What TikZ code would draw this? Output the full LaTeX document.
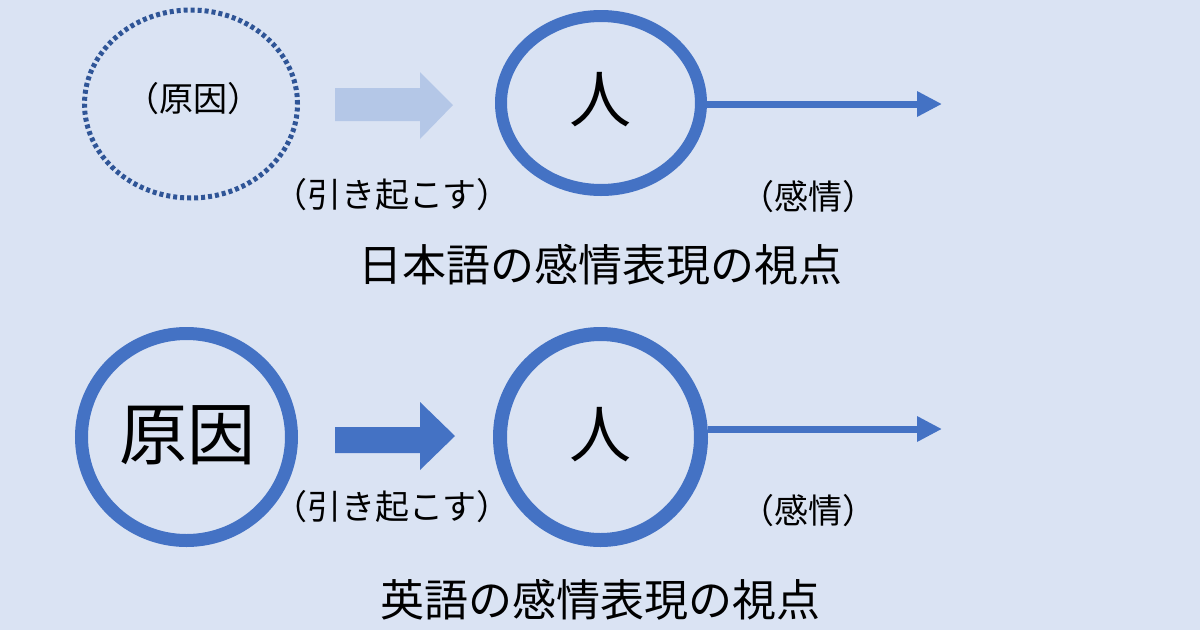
\documentclass[tikz,border=0pt]{standalone}
\usepackage{fontspec}
\newfontfamily\jp{Noto Sans CJK JP}
\usetikzlibrary{shapes.geometric,arrows.meta}
\definecolor{bgc}{HTML}{DAE3F3}
\definecolor{mainblue}{HTML}{4472C4}
\definecolor{darkblue}{HTML}{2F5597}
\definecolor{lightblue}{HTML}{B4C7E7}
\tikzset{
  ring/.style={ellipse, draw=mainblue, inner sep=0pt},
  dotring/.style={ellipse, draw=darkblue, line width=5pt, dash pattern=on 4pt off 3pt, inner sep=0pt},
  lbl/.style={inner sep=0pt, font=\jp\fontsize{34pt}{40pt}\selectfont},
  bigtxt/.style={inner sep=0pt, font=\jp\fontsize{62pt}{70pt}\selectfont},
  ttl/.style={inner sep=0pt, font=\jp\fontsize{44pt}{52pt}\selectfont},
  flow/.style={draw=mainblue, line width=7pt, -{Triangle[length=25pt,width=24pt]}},
}
\begin{document}
\begin{tikzpicture}[x=1pt,y=-1pt]
\fill[bgc] (0,0) rectangle (1200,630);
\useasboundingbox (0,0) rectangle (1200,630);
% top row
\node[dotring, minimum width=213pt, minimum height=188pt] (c1) at (191,104) {};
\node[lbl] (c1t) at (193,99) {（原因）};
\node[ring, line width=12pt, minimum width=200pt, minimum height=174pt] (p1) at (601,103) {};
\node[bigtxt] (p1t) at (600,100) {人};
\fill[lightblue] (335,88) -- (420,88) -- (420,72) -- (453,105) -- (420,139) -- (420,121) -- (335,121) -- cycle;
\coordinate (e1) at (942,104);
\draw[flow] (p1.east |- 0,104) -- (e1);
\node[lbl] (k1) at (392,195) {（引き起こす）};
\node[lbl] (f1) at (808,197) {（感情）};
\node[ttl] (t1) at (600,265) {日本語の感情表現の視点};
% bottom row
\node[ring, line width=13pt, minimum width=210pt, minimum height=207pt] (c2) at (186.5,437) {};
\node[inner sep=0pt, font=\jp\fontsize{68pt}{76pt}\selectfont] (c2t) at (187,435) {原因};
\node[ring, line width=14pt, minimum width=201pt, minimum height=206pt] (p2) at (600.5,437) {};
\node[bigtxt] (p2t) at (600,435) {人};
\fill[mainblue] (335,427) -- (420,427) -- (420,402) -- (455,436) -- (420,470) -- (420,453) -- (335,453) -- cycle;
\coordinate (e2) at (942,429);
\draw[flow] (p2.east |- 0,429) -- (e2);
\node[lbl] (k2) at (392,507) {（引き起こす）};
\node[lbl] (f2) at (808,511) {（感情）};
\node[ttl] (t2) at (600,600) {英語の感情表現の視点};
\end{tikzpicture}
\end{document}
